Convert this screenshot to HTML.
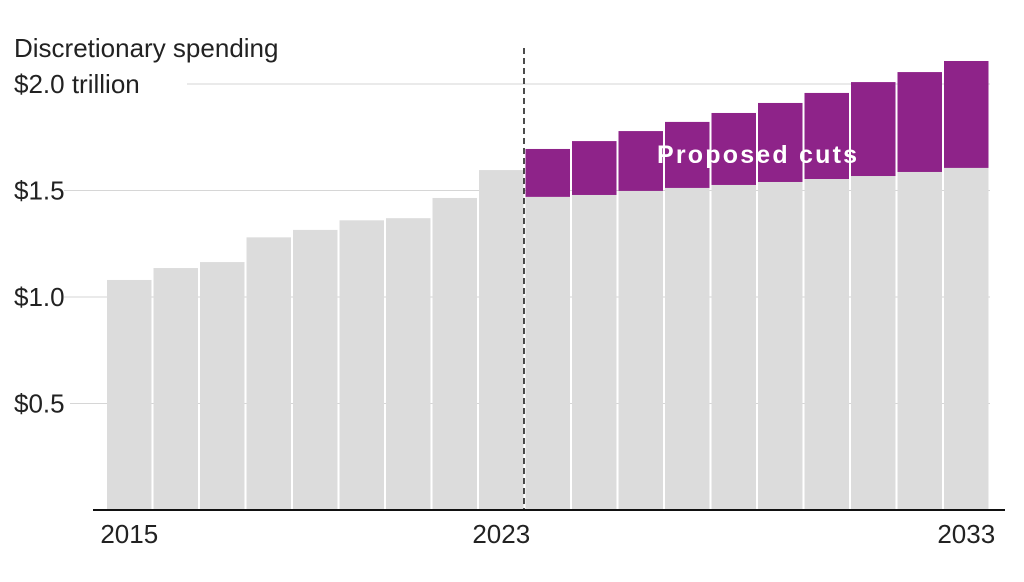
<!DOCTYPE html>
<html><head><meta charset="utf-8"><style>
body{margin:0;background:#fff;}
svg text{font-family:"Liberation Sans",sans-serif;}
</style></head><body>
<svg width="1024" height="577" viewBox="0 0 1024 577">
<g id="grid"></g>
<g id="bars"></g>
<g id="labels"></g>
</svg>
<script>
const years=[2015,2016,2017,2018,2019,2020,2021,2022,2023,2024,2025,2026,2027,2028,2029,2030,2031,2032,2033];
const baseValues=[1.08,1.136,1.164,1.28,1.315,1.36,1.37,1.465,1.596,1.47,1.479,1.498,1.512,1.526,1.54,1.554,1.568,1.587,1.606];
const totalValues=[null,null,null,null,null,null,null,null,null,1.695,1.732,1.779,1.822,1.864,1.911,1.958,2.009,2.056,2.108];
const yTicks=[0.5,1.0,1.5,2.0];
const yTickLabels=["$0.5","$1.0","$1.5","$2.0 trillion"];
const xLabelYears=[2015,2023,2033];
const NS="http://www.w3.org/2000/svg";
const y0=510,pxPer=213,x0=106,step=46.5;
const y=v=>y0-v*pxPer;
const x=i=>x0+i*step;
function mk(t,a,p){const e=document.createElementNS(NS,t);for(const k in a)e.setAttribute(k,a[k]);p.appendChild(e);return e;}
const grid=document.getElementById('grid'),bars=document.getElementById('bars'),labels=document.getElementById('labels');
yTicks.forEach((v,i)=>{
 const l=mk('line',{x1:i==3?187:(i==0?70:64),x2:990,y1:y(v),y2:y(v),stroke:'#d6d6d6','stroke-width':1},grid);
 
 
 const t=mk('text',{x:14,y:y(v)+9,'font-size':26,fill:'#222'},labels);
 t.textContent=yTickLabels[i];
 
 
});
const tt=mk('text',{x:14,y:57,'font-size':26,fill:'#222'},labels);
tt.textContent='Discretionary spending';


years.forEach((yr,i)=>{
 const b=mk('rect',{x:x(i)+1,y:y(baseValues[i]),width:step-2,height:y0-y(baseValues[i]),fill:'#dcdcdc'},bars);
 
 
 if(totalValues[i]!=null){
  const c=mk('rect',{x:x(i)+1,y:y(totalValues[i]),width:step-2,height:y(baseValues[i])-y(totalValues[i]),fill:'#8e2389'},bars);
  
  
 }
});
const dl=mk('line',{x1:524,x2:524,y1:48,y2:y0,stroke:'#111','stroke-width':1.5,'stroke-dasharray':'6,4'},labels);


const ax=mk('line',{x1:93,x2:1005,y1:y0,y2:y0,stroke:'#111','stroke-width':2},labels);


xLabelYears.forEach(yr=>{
 const i=years.indexOf(yr);
 const t=mk('text',{x:x(i)+step/2,y:543,'font-size':26,fill:'#222','text-anchor':'middle'},labels);
 t.textContent=yr;
 
 
});
const pc=mk('text',{x:757,y:163,'font-size':25,'font-weight':'bold',fill:'#fff','text-anchor':'middle','textLength':200},labels);
pc.textContent='Proposed cuts';


</script>
</body></html>
